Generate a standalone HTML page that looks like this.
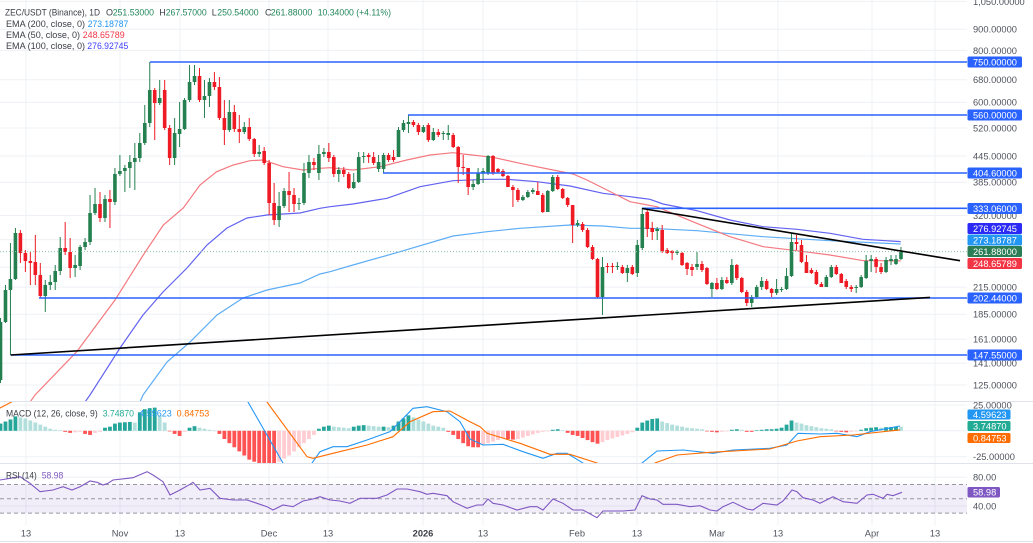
<!DOCTYPE html>
<html><head><meta charset="utf-8">
<style>
html,body{margin:0;padding:0;background:#fff;overflow:hidden;}
svg{display:block;font-family:"Liberation Sans",sans-serif;}
</style></head><body>
<svg id="c" width="1033" height="543" viewBox="0 0 1033 543" xmlns="http://www.w3.org/2000/svg">
<rect width="1033" height="543" fill="#fff"/>
<defs>
<clipPath id="cm"><rect x="0" y="0" width="967" height="401"/></clipPath>
<clipPath id="cmacd"><rect x="0" y="402" width="967" height="61"/></clipPath>
<clipPath id="crsi"><rect x="0" y="464" width="967" height="61"/></clipPath>
</defs>

<!-- grid -->
<g stroke="#eef0f5" stroke-width="1" id="grid">
<line x1="0" x2="967" y1="1.4" y2="1.4"/><line x1="0" x2="967" y1="29.2" y2="29.2"/><line x1="0" x2="967" y1="50.4" y2="50.4"/>
<line x1="0" x2="967" y1="79.7" y2="79.7"/><line x1="0" x2="967" y1="102.2" y2="102.2"/><line x1="0" x2="967" y1="128" y2="128"/>
<line x1="0" x2="967" y1="156" y2="156"/><line x1="0" x2="967" y1="182.2" y2="182.2"/><line x1="0" x2="967" y1="215.5" y2="215.5"/>
<line x1="0" x2="967" y1="239.6" y2="239.6"/><line x1="0" x2="967" y1="267.3" y2="267.3"/><line x1="0" x2="967" y1="287.1" y2="287.1"/>
<line x1="0" x2="967" y1="314.2" y2="314.2"/><line x1="0" x2="967" y1="339.3" y2="339.3"/><line x1="0" x2="967" y1="363.2" y2="363.2"/>
<line x1="0" x2="967" y1="385" y2="385"/>
<line x1="0" x2="967" y1="405" y2="405"/><line x1="0" x2="967" y1="430.8" y2="430.8"/><line x1="0" x2="967" y1="456.7" y2="456.7"/>
<line x1="0" x2="967" y1="477.3" y2="477.3"/><line x1="0" x2="967" y1="506" y2="506"/>
<line x1="26" x2="26" y1="0" y2="525"/><line x1="120" x2="120" y1="0" y2="525"/><line x1="180" x2="180" y1="0" y2="525"/>
<line x1="269" x2="269" y1="0" y2="525"/><line x1="328" x2="328" y1="0" y2="525"/><line x1="423" x2="423" y1="0" y2="525"/>
<line x1="483" x2="483" y1="0" y2="525"/><line x1="577" x2="577" y1="0" y2="525"/><line x1="637" x2="637" y1="0" y2="525"/>
<line x1="717" x2="717" y1="0" y2="525"/><line x1="778" x2="778" y1="0" y2="525"/><line x1="872" x2="872" y1="0" y2="525"/>
<line x1="935" x2="935" y1="0" y2="525"/>
</g>

<!-- pane separators -->
<line x1="0" x2="1033" y1="401.5" y2="401.5" stroke="#e0e3eb" stroke-width="1"/>
<line x1="0" x2="1033" y1="463.5" y2="463.5" stroke="#e0e3eb" stroke-width="1"/>
<line x1="0" x2="1033" y1="541.5" y2="541.5" stroke="#e0e3eb" stroke-width="1"/>

<!-- main pane -->
<g clip-path="url(#cm)">
<polyline fill="none" stroke="#5dadf5" stroke-width="1.2" points="140,402 143,395 167,362 190,342 217,315 243,298 267,290 300,283 320,274 330,271.7 353,265 400,251.7 453,236 487,231.7 520,228.3 570,225 603,226 630,228.3 650,228.3 697,230.7 763,236.7 830,240.7 900.7,244"/>
<polyline fill="none" stroke="#6262f2" stroke-width="1.2" points="85,402 90,395 120,348 143,315 163,292 187,268 207,245 227,228 247,218 267,215 300,213 320,208.3 330,206.7 353,204 387,198.3 420,186.7 453,180.7 487,179.3 507,179.3 537,181.7 570,186 603,193.3 630,196.7 650,199.3 663,204 697,210.7 730,220 763,226.7 797,229.3 830,233.3 863,239.3 900.7,241.6"/>
<polyline fill="none" stroke="#f47a80" stroke-width="1.2" points="28,405 35,395 76.7,351.7 115,300 143.3,255 163.3,225 183.3,208 200,185 216.7,171.7 233.3,165 250,160.7 263,160 283,166.7 303,170 320,168.3 330,167.7 353,170 380,166.7 406.7,160 430,155 453,152.7 463,154 493,157.3 520,163.3 553,170 573,174 587,180 607,190 630,201.7 656.7,206.7 696.7,223.3 730,236.7 763.3,246.7 796.7,250.7 830,255 863.3,260.7 883,260.7 900.7,260.9"/>
<g id="cand"></g>
<line x1="0" x2="967" y1="251.6" y2="251.6" stroke="#8cc4a6" stroke-width="1" stroke-dasharray="1 2"/>
<g stroke="#2962ff" stroke-width="1.6">
<line x1="150" x2="967" y1="62" y2="62"/>
<line x1="408" x2="967" y1="115" y2="115"/>
<line x1="383" x2="967" y1="173" y2="173"/>
<line x1="642" x2="967" y1="208.3" y2="208.3"/>
<line x1="39" x2="967" y1="298" y2="298"/>
<line x1="10.7" x2="967" y1="355" y2="355"/>
</g>
<g stroke="#000" stroke-width="1.6">
<line x1="10.7" y1="355" x2="930" y2="297.4"/>
<line x1="642" y1="208.5" x2="960" y2="260.7"/>
</g>
</g>

<!-- legend -->
<g font-size="9" fill="#3a3d45">
<text x="5" y="15.7" textLength="95" lengthAdjust="spacingAndGlyphs">ZEC/USDT (Binance), 1D</text>
<text x="106" y="15.7">O</text><text x="112.7" y="15.7" fill="#24875a" textLength="41.3" lengthAdjust="spacingAndGlyphs">251.53000</text>
<text x="159.3" y="15.7">H</text><text x="165.7" y="15.7" fill="#24875a" textLength="41" lengthAdjust="spacingAndGlyphs">267.57000</text>
<text x="211.7" y="15.7">L</text><text x="217.3" y="15.7" fill="#24875a" textLength="41.3" lengthAdjust="spacingAndGlyphs">250.54000</text>
<text x="265" y="15.7">C</text><text x="270.7" y="15.7" fill="#24875a" textLength="41.6" lengthAdjust="spacingAndGlyphs">261.88000</text>
<text x="317.7" y="15.7" fill="#24875a" textLength="73.3" lengthAdjust="spacingAndGlyphs">10.34000 (+4.11%)</text>
<text x="6" y="27.2" textLength="79" lengthAdjust="spacingAndGlyphs">EMA (200, close, 0)</text><text x="87.7" y="27.2" fill="#2196f3" textLength="40.6" lengthAdjust="spacingAndGlyphs">273.18787</text>
<text x="6" y="38" textLength="74" lengthAdjust="spacingAndGlyphs">EMA (50, close, 0)</text><text x="82.7" y="38" fill="#f23645" textLength="42" lengthAdjust="spacingAndGlyphs">248.65789</text>
<text x="6" y="48.8" textLength="79" lengthAdjust="spacingAndGlyphs">EMA (100, close, 0)</text><text x="87.3" y="48.8" fill="#3d3dff" textLength="41" lengthAdjust="spacingAndGlyphs">276.92745</text>
</g>

<!-- price axis -->
<g font-size="9.3" fill="#50535e">
<text x="973" y="4.8">1,050.00000</text>
<text x="973" y="32.6">900.00000</text>
<text x="973" y="53.8">800.00000</text>
<text x="973" y="83.1">680.00000</text>
<text x="973" y="105.6">600.00000</text>
<text x="973" y="131.4">520.00000</text>
<text x="973" y="159.4">445.00000</text>
<text x="973" y="185.6">385.00000</text>
<text x="973" y="218.9">320.00000</text>
<text x="973" y="290.5">215.00000</text>
<text x="973" y="317.6">185.00000</text>
<text x="973" y="342.7">161.00000</text>
<text x="973" y="366.6">141.00000</text>
<text x="973" y="388.4">125.00000</text>
<text x="973" y="408.4">25.00000</text>
<text x="973" y="460.1">-25.00000</text>
<text x="973" y="480.7">80.00</text>
<text x="973" y="509.4">40.00</text>
</g>
<g font-size="9.3" fill="#fff">
<rect x="967.5" y="56.5" width="54.5" height="11" rx="1.5" fill="#2962ff"/><text x="973" y="65.4">750.00000</text>
<rect x="967.5" y="109.5" width="54.5" height="11" rx="1.5" fill="#2962ff"/><text x="973" y="118.4">560.00000</text>
<rect x="967.5" y="167.5" width="54.5" height="11" rx="1.5" fill="#2962ff"/><text x="973" y="176.4">404.60000</text>
<rect x="967.5" y="203" width="54.5" height="11" rx="1.5" fill="#2962ff"/><text x="973" y="211.9">333.06000</text>
<rect x="967.5" y="223" width="54.5" height="11" rx="1.5" fill="#2b2bf5"/><text x="973" y="231.9">276.92745</text>
<rect x="967.5" y="234.5" width="54.5" height="11" rx="1.5" fill="#2196f3"/><text x="973" y="243.4">273.18787</text>
<rect x="967.5" y="246" width="54.5" height="11" rx="1.5" fill="#2a7d55"/><text x="973" y="254.9">261.88000</text>
<rect x="967.5" y="258" width="54.5" height="11" rx="1.5" fill="#f23645"/><text x="973" y="266.9">248.65789</text>
<rect x="967.5" y="292.5" width="54.5" height="11" rx="1.5" fill="#2962ff"/><text x="973" y="301.4">202.44000</text>
<rect x="967.5" y="349.5" width="54.5" height="11" rx="1.5" fill="#2962ff"/><text x="973" y="358.4">147.55000</text>
<rect x="967.5" y="409.5" width="43" height="10" rx="1.5" fill="#2196f3"/><text x="973" y="417.9">4.59623</text>
<rect x="967.5" y="421" width="43" height="10" rx="1.5" fill="#22ab94"/><text x="973" y="429.4">3.74870</text>
<rect x="967.5" y="433" width="43" height="10" rx="1.5" fill="#ff6d00"/><text x="973" y="441.4">0.84753</text>
<rect x="967.5" y="487" width="32.5" height="10.5" rx="1.5" fill="#7e57c2"/><text x="973" y="495.6">58.98</text>
</g>

<!-- MACD pane -->
<g clip-path="url(#cmacd)">
<g id="hist"></g>
<polyline fill="none" stroke="#2196f3" stroke-width="1.1" points="240,380 248,402 283,463 295,480 305,480 312,463 320,451.7 333,446.7 347,446.7 367,440 390,431.7 400,421.7 413,408.3 427,406.7 447,411.7 460,421.7 470,439 483,445 503,444.3 523,451.7 543,458.3 557,453.3 567,453.3 583,463 595,475 630,475 642,463 657,451 683,450 713,453.3 733,450 770,448.3 787,445 798,433.3 820,434 837,433.3 857,436.7 870,431.7 900,426"/>
<polyline fill="none" stroke="#ff6d00" stroke-width="1.1" points="-5,412 0,408 12,401.7 20,390 255,385 267,402 307,456.7 313,458.3 333,453.3 367,445 393,436.7 410,421.7 433,411.7 450,411 470,421.7 480,426.7 487,433.3 520,443.3 550,454.3 570,454.3 597,463 615,475 640,475 655,463 677,455 710,452.3 770,449 797,441 820,436.7 853,435 900,429.9"/>
</g>
<g font-size="9">
<text x="6" y="416.7" fill="#3a3d45" textLength="91.7" lengthAdjust="spacingAndGlyphs">MACD (12, 26, close, 9)</text>
<text x="102.7" y="416.7" fill="#22ab94" textLength="31.3" lengthAdjust="spacingAndGlyphs">3.74870</text>
<text x="139.3" y="416.7" fill="#2196f3" textLength="32.4" lengthAdjust="spacingAndGlyphs">4.59623</text>
<text x="176.7" y="416.7" fill="#ff6d00" textLength="32.6" lengthAdjust="spacingAndGlyphs">0.84753</text>
</g>

<!-- RSI pane -->
<rect x="0" y="484.5" width="967" height="28.6" fill="#7e57c2" fill-opacity="0.1"/>
<g stroke="#9598a1" stroke-width="1" stroke-dasharray="4 3">
<line x1="0" x2="967" y1="484.5" y2="484.5"/>
<line x1="0" x2="967" y1="498.8" y2="498.8"/>
<line x1="0" x2="967" y1="513.1" y2="513.1"/>
</g>
<g clip-path="url(#crsi)">
<polyline fill="none" stroke="#7e57c2" stroke-width="1.1" points="0,480 20,476.7 30,483.3 40,491.7 53,490 63,486.7 72,490 80,486.7 90,481 97,482.3 103,485 108,483.3 113,480 133,477.7 147,471.7 153,475 163,481.7 170,495 180,490 190,484.3 193,482.3 200,490 210,488.3 220,498.3 233,500 247,500 257,503.3 267,506.7 273,510 283,505 293,506.7 303,501 313,499 320,496.7 330,500 340,501 350,503.3 360,498.3 377,498.3 387,495 397,489 407,489 420,491.7 427,494.3 433,493.3 447,495.7 453,501.7 467,508.3 477,505 483,505 488,499 493,503.3 503,505 517,510 530,506.7 537,506.7 543,510 553,499 563,503.3 573,510 583,510 597,517.7 603,511 623,511 635,510 642,495.7 650,499 657,500 663,504.3 677,504.3 690,506.7 700,505.7 710,510 717,511 723,506.7 733,502.3 747,509 753,510 763,503.3 777,505 783,501 792,490 797,491.7 803,497.7 813,500 820,503.3 833,496.7 843,501.7 857,503.3 867,495 873,494.3 883,498.3 887,494.3 893,495.7 902,492.3"/>
</g>
<g font-size="9">
<text x="6" y="478.5" fill="#3a3d45" textLength="30.7" lengthAdjust="spacingAndGlyphs">RSI (14)</text>
<text x="41.7" y="478.5" fill="#7e57c2" textLength="21.6" lengthAdjust="spacingAndGlyphs">58.98</text>
</g>

<!-- time axis -->
<g font-size="9.3" fill="#50535e" text-anchor="middle">
<text x="26" y="536.7">13</text>
<text x="120" y="536.7">Nov</text>
<text x="180" y="536.7">13</text>
<text x="269" y="536.7">Dec</text>
<text x="328" y="536.7">13</text>
<text x="423" y="536.7" font-weight="bold" fill="#3a3d45">2026</text>
<text x="483" y="536.7">13</text>
<text x="577" y="536.7">Feb</text>
<text x="637" y="536.7">13</text>
<text x="717" y="536.7">Mar</text>
<text x="778" y="536.7">13</text>
<text x="872" y="536.7">Apr</text>
<text x="935" y="536.7">13</text>
</g>
</svg>
<script>
(function(){
var NS="http://www.w3.org/2000/svg";
function el(p,t,a){var e=document.createElementNS(NS,t);for(var k in a)e.setAttribute(k,a[k]);p.appendChild(e);return e;}
var C=[
[1,322,380,318,383],[1,290,322,285,323],[1,279,290,243,355],[1,233,279,228,280],[0,233,253,230,263],
[0,253,261,250,272],[0,261,263,252,285],[0,262,275,235,285],[0,275,296,263,298],[1,285,296,280,312],
[1,282,285,275,290],[1,271,282,265,290],[1,248,271,237,275],[0,248,252,222,255],[0,252,268,238,278],
[1,265,268,255,277],[1,247,266,245,270],[1,242,247,238,250],[1,213,242,195,245],[1,204,213,188,215],
[0,204,218,192,222],[1,199,218,195,222],[0,199,202,190,228],[1,174,202,168,205],[1,171,174,155,176],
[1,168,171,165,192],[1,162,168,155,188],[1,158,162,143,190],[1,143,158,133,162],[1,123,143,105,145],
[1,90,123,62,127],[0,90,103,88,140],[1,98,103,80,105],[0,90,128,80,130],[0,128,158,125,165],
[1,133,158,118,165],[1,129,134,102,147],[1,100,129,98,130],[1,82,100,65,102],[1,76,82,65,85],
[0,76,100,68,102],[1,96,100,80,118],[1,82,96,78,107],[0,82,87,72,90],[0,87,118,77,120],
[0,118,130,100,145],[1,112,130,100,132],[0,112,129,105,132],[0,129,132,115,143],[1,127,132,122,134],
[0,127,139,118,141],[0,139,154,138,157],[1,152,154,145,157],[0,151,163,147,165],[0,163,203,160,215],
[0,203,220,183,225],[1,206,220,192,227],[1,191,206,188,208],[0,191,195,172,212],[0,195,204,188,212],
[1,203,204,198,210],[1,173,203,163,205],[1,162,173,155,178],[0,162,165,158,170],[1,154,173,145,180],
[1,152,154,148,157],[0,152,158,143,162],[0,157,174,155,177],[1,170,174,167,182],[0,170,174,167,177],
[0,174,188,172,189],[1,182,188,173,189],[1,157,182,152,183],[1,156,157,152,163],[0,155,157,153,163],
[0,157,163,152,165],[1,162,169,155,172],[1,155,169,153,173],[0,155,160,153,162],[0,157,160,150,162],
[1,130,157,127,157],[1,123,130,120,132],[1,122,124,115,133],[0,122,125,120,127],[0,125,132,123,135],
[1,127,132,125,133],[0,125,140,123,142],[1,132,140,128,141],[0,132,135,129,137],[1,133,134,131,140],
[1,133,135,125,140],[0,135,147,133,148],[0,147,167,146,183],[0,167,168,155,175],[0,168,187,168,195],
[1,184,187,180,190],[1,173,184,168,185],[1,171,173,168,183],[1,156,173,155,175],[0,156,173,155,175],
[0,169,172,168,173],[0,171,176,169,177],[0,176,187,175,187],[0,187,190,185,207],[0,190,200,188,202],
[1,197,200,195,201],[1,192,197,190,198],[1,190,192,188,194],[0,191,195,182,195],[0,195,212,193,213],
[1,191,212,190,212],[1,177,191,175,192],[0,177,189,175,190],[0,189,198,188,199],[0,198,205,197,207],
[0,205,225,205,243],[1,223,225,220,227],[0,224,230,222,232],[0,230,247,228,248],[0,247,259,245,260],
[0,259,297,258,298],[1,267,297,257,315],[0,266,267,263,273],[0,266,267,263,273],[1,266,267,262,270],
[0,267,273,265,274],[1,268,273,265,282],[0,267,274,265,275],[1,245,273,240,277],[1,214,248,208,250],
[0,212,229,208,237],[0,228,232,222,240],[1,229,231,227,240],[0,230,251,225,253],[0,250,253,248,254],
[0,251,253,250,260],[1,252,253,250,255],[0,253,265,252,266],[0,263,269,262,275],[0,267,270,264,276],
[1,264,267,252,270],[0,264,270,261,272],[0,268,284,267,285],[1,283,289,282,297],[0,283,289,278,290],
[1,280,289,277,290],[0,280,283,277,284],[1,265,283,259,285],[0,265,278,264,280],[0,278,292,277,293],
[0,292,303,290,306],[1,297,303,295,307],[1,287,297,285,298],[1,281,287,277,290],[0,281,289,279,290],
[0,289,293,288,297],[1,289,293,279,295],[1,289,290,287,292],[1,276,289,268,290],[1,242,276,233,277],
[0,242,244,235,250],[0,245,262,240,263],[0,262,273,255,273],[0,270,273,268,274],[0,272,284,270,285],
[0,284,287,282,287],[1,277,287,275,287],[1,267,277,265,278],[0,267,274,265,275],[0,274,283,273,283],
[0,281,287,279,289],[0,287,289,285,292],[1,287,288,285,293],[1,277,287,275,288],[1,261,278,255,279],
[1,259,261,255,272],[0,259,267,257,273],[0,267,272,263,274],[1,260,272,257,273],[1,259,261,255,265],
[1,259,264,255,265],[1,252,259,247,260]
];
var g=document.getElementById('cand');
var GC="#24804f",RC="#ee1a24";
for(var i=0;i<C.length;i++){
 var c=C[i],x=0.5+i*4.975,col=c[0]?GC:RC;
 var bt=c[1],bb=c[2],wt=Math.min(c[3],bt),wb=Math.max(c[4],bb);
 el(g,'line',{x1:x,x2:x,y1:wt,y2:wb,stroke:col,'stroke-width':1});
 el(g,'rect',{x:x-1.8,y:bt,width:3.6,height:Math.max(1,bb-bt),fill:col});
}
var H=[7,9,11,14,13,12,10,8,6,4,2,1,0.5,
-1,-2,-1.5,-1,-3,-4,-2,-1,
3,4,7,8,8.3,8.6,8,
18,21,22,22.5,15,8,
-0.5,-3,-5,-1,3,4.5,3,2,1,0.3,
-3,-8,-12,-16,-20,-24,-28,-30,-33,-34,-35,-36,
-30,-27,-24,-20,-16,-12,-8,-4,
2,4,5,
4,3.5,3,2.5,
4,5,5.5,
5,4.5,4,4,3.5,
5,9,12,15,
13,11,9,7,5,4,3,
-1,-4,-8,-12,-15,-16,
-16,-14,-12,-10.5,-9,-7,-8,-8.5,-8,-6.5,-5,-3.5,-2,-1,-0.5,
1,1.5,0.5,
-2,-4,-5,-7,-9,-11,-12.5,
-11,-9,-7.5,-6,-4.5,-3,-1.5,
3,8,10,11.5,12,
9,7.5,6,5,4,3,2.5,2,1.5,
-0.5,-1,-1.5,-1,-0.5,
1,1.5,1,-1,-1,0.5,1,1.5,1.5,2,3,
6,10,
8,7,5.5,4.5,3.5,2.5,
2,1.5,-0.5,-1,-1.5,-1,-0.5,
1,2.5,3,3.5,3,3.5,3.7,4,3.9];
var gh=document.getElementById('hist'),prev=0,y0=430.8;
for(var j=0;j<H.length;j++){
 var h=H[j],xx=0.5+j*4.975,cl;
 if(h>=0){cl=(h>=prev)?"#26a69a":"#b2dfdb";}else{cl=(h<=prev)?"#ff5252":"#ffcdd2";}
 prev=h;
 var hp=h*1.03;
 el(gh,'rect',{x:xx-1.9,width:3.8,y:(hp>=0?y0-hp:y0),height:Math.max(0.6,Math.abs(hp)),fill:cl});
}
})();
</script>
</body></html>
